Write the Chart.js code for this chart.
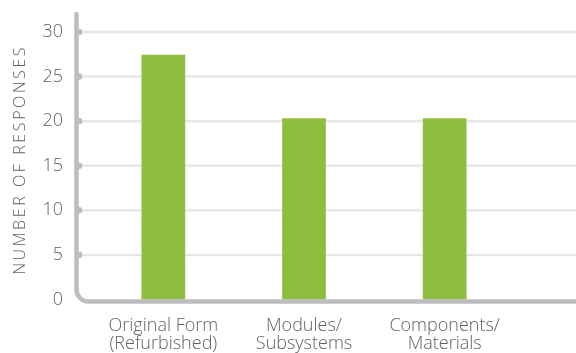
<!DOCTYPE html>
<html>
<head>
<meta charset="utf-8">
<script src="https://cdn.jsdelivr.net/npm/chart.js@4/dist/chart.umd.min.js"></script>
<style>
  html, body { margin: 0; padding: 0; background: #ffffff; }
  #wrap { width: 576px; height: 353px; position: relative; }
</style>
</head>
<body>
<div id="wrap"><canvas id="c" width="576" height="353"></canvas></div>
<script>
const categories = [["Original Form", "(Refurbished)"], ["Modules/", "Subsystems"], ["Components/", "Materials"]];
const responses = [27.4, 20.3, 20.3];
const yTicks = [0, 5, 10, 15, 20, 25, 30];
const yTitle = "NUMBER OF RESPONSES";

const FONT = "'Open Sans', 'DejaVu Sans', sans-serif";
const TEXT = "#626262";
const AXIS = "#bdbdc1";
const GRID = "#e7e7e9";
const BAR = "#8fbe3f";

const decor = {
  id: 'decor',
  beforeDatasetsDraw(chart) {
    const { ctx, chartArea } = chart;
    const y = chart.scales.y;
    const axisX = chartArea.left - 16.5;
    ctx.save();
    ctx.strokeStyle = GRID;
    ctx.lineWidth = 2.5;
    yTicks.forEach(v => {
      if (v === 0) return;
      const py = y.getPixelForValue(v);
      ctx.beginPath();
      ctx.moveTo(axisX + 2, py);
      ctx.lineTo(chart.width, py);
      ctx.stroke();
    });
    ctx.restore();
  },
  afterDatasetsDraw(chart) {
    const { ctx, chartArea } = chart;
    const y = chart.scales.y;
    const axisX = chartArea.left - 16.5;
    const y0 = y.getPixelForValue(0) + 2;
    const r = 12;
    ctx.save();
    ctx.strokeStyle = AXIS;
    ctx.lineWidth = 4.5;
    ctx.lineCap = 'round';
    ctx.beginPath();
    ctx.moveTo(axisX, chartArea.top - 18);
    ctx.lineTo(axisX, y0 - r);
    ctx.arcTo(axisX, y0, axisX + r, y0, r);
    ctx.lineTo(chart.width + 5, y0);
    ctx.stroke();
    ctx.fillStyle = AXIS;
    yTicks.forEach(v => {
      if (v === 0) return;
      const py = y.getPixelForValue(v);
      ctx.beginPath();
      ctx.arc(axisX + 2.5, py, 3.3, 0, Math.PI * 2);
      ctx.fill();
    });
    // y axis title
    ctx.translate(20, 161);
    ctx.rotate(-Math.PI / 2);
    ctx.font = "300 16px " + FONT;
    ctx.fillStyle = TEXT;
    ctx.textAlign = 'center';
    ctx.textBaseline = 'middle';
    try { ctx.letterSpacing = '2.6px'; } catch (e) {}
    ctx.fillText(yTitle, 1.3, 0);
    ctx.restore();
  }
};

new Chart(document.getElementById('c'), {
  type: 'bar',
  data: {
    labels: categories,
    datasets: [{
      data: responses,
      backgroundColor: BAR,
      borderWidth: 0,
      barThickness: 43
    }]
  },
  options: {
    responsive: false,
    animation: false,
    events: [],
    layout: { padding: { top: 32, right: 61, left: 0, bottom: 0 } },
    plugins: { legend: { display: false }, tooltip: { enabled: false }, title: { display: false } },
    scales: {
      x: {
        grid: { display: false, drawTicks: false },
        border: { display: false },
        ticks: { color: TEXT, font: { family: FONT, size: 18, weight: 300, lineHeight: 1.0 }, padding: 17, maxRotation: 0, autoSkip: false },
        afterFit(scale) { scale.height = 53.5; }
      },
      y: {
        min: 0, max: 30,
        afterBuildTicks(scale) { scale.ticks = yTicks.map(v => ({ value: v })); },
        grid: { display: false, drawTicks: false },
        border: { display: false },
        ticks: { color: TEXT, font: { family: FONT, size: 18, weight: 300 }, padding: 30 },
        afterFit(scale) { scale.width = 93; scale.paddingTop = 0; scale.paddingBottom = 0; }
      }
    }
  },
  plugins: [decor]
});
</script>
</body>
</html>
